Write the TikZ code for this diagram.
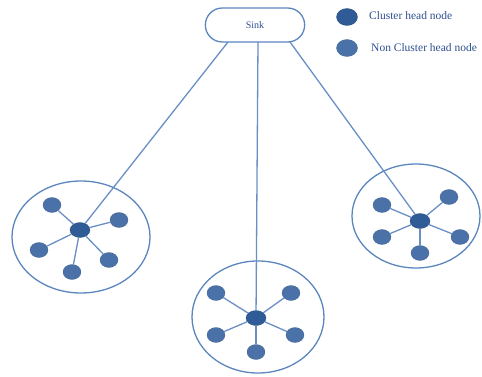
\documentclass[tikz,border=0pt]{standalone}
\usepackage{fontspec}
\setmainfont{Liberation Serif}
\usetikzlibrary{shapes.misc,shapes.geometric}
\definecolor{headc}{HTML}{2F5C96}
\definecolor{nodec}{HTML}{4A72A8}
\definecolor{ringc}{HTML}{5B85BE}
\definecolor{linec}{HTML}{6A8EC6}
\definecolor{textc}{HTML}{2E4F8F}
\tikzset{
  head/.style={ellipse, fill=headc, draw=headc!80!black, line width=0.3pt, minimum width=20pt, minimum height=15pt, inner sep=0pt},
  member/.style={ellipse, fill=nodec, draw=nodec!85!black, line width=0.3pt, minimum width=18pt, minimum height=15pt, inner sep=0pt},
  ring/.style={ellipse, draw=ringc, line width=1.3pt, inner sep=0pt},
  link/.style={draw=linec, line width=1.3pt},
  legtext/.style={text=textc, font=\fontsize{11.5}{13}\selectfont, anchor=west, inner sep=0pt},
}
\begin{document}
\begin{tikzpicture}[x=1pt,y=-1pt]
\useasboundingbox (0,0) rectangle (482,377);
% sink
\node[rounded rectangle, draw=ringc, line width=1.3pt, minimum width=106pt, minimum height=34pt, font=\fontsize{10}{12}\selectfont, text=textc] (sink) at (255,25) {Sink};
\coordinate (s1) at (228,42);
\coordinate (s2) at (258,42);
\coordinate (s3) at (290,42);
% legend
\node[head, minimum width=21pt, minimum height=17pt] (lh) at (347,17) {};
\node[legtext] (lht) at (369,16) {Cluster head node};
\node[member, minimum width=21pt, minimum height=17pt] (lm) at (347,48) {};
\node[legtext] (lmt) at (371,48) {Non Cluster head node};
% rings
\node[ring, minimum width=138pt, minimum height=112pt] (r1) at (81,237) {};
\node[ring, minimum width=132pt, minimum height=112pt] (r2) at (258,317) {};
\node[ring, minimum width=128pt, minimum height=104pt] (r3) at (416,216) {};
% cluster 1
\node[head] (h1) at (80,230) {};
\node[member] (a1) at (52,205) {};
\node[member] (a2) at (119,220) {};
\node[member] (a3) at (39,250) {};
\node[member] (a4) at (72,272) {};
\node[member] (a5) at (109,260) {};
% cluster 2
\node[head] (h2) at (256,318) {};
\node[member] (b1) at (216,293) {};
\node[member] (b2) at (291,293) {};
\node[member] (b3) at (216,335) {};
\node[member] (b4) at (295,335) {};
\node[member] (b5) at (256,352) {};
% cluster 3
\node[head] (h3) at (420,221) {};
\node[member] (c1) at (382,205) {};
\node[member] (c2) at (449,197) {};
\node[member] (c3) at (382,237) {};
\node[member] (c4) at (460,237) {};
\node[member] (c5) at (420,253) {};
% links
\foreach \h/\m in {h1/a1,h1/a2,h1/a3,h1/a4,h1/a5,h2/b1,h2/b2,h2/b3,h2/b4,h2/b5,h3/c1,h3/c2,h3/c3,h3/c4,h3/c5}
  \draw[link] (\h) -- (\m);
\draw[link] (s1) -- (h1);
\draw[link] (s2) -- (h2);
\draw[link] (s3) -- (h3);
\end{tikzpicture}
\end{document}
